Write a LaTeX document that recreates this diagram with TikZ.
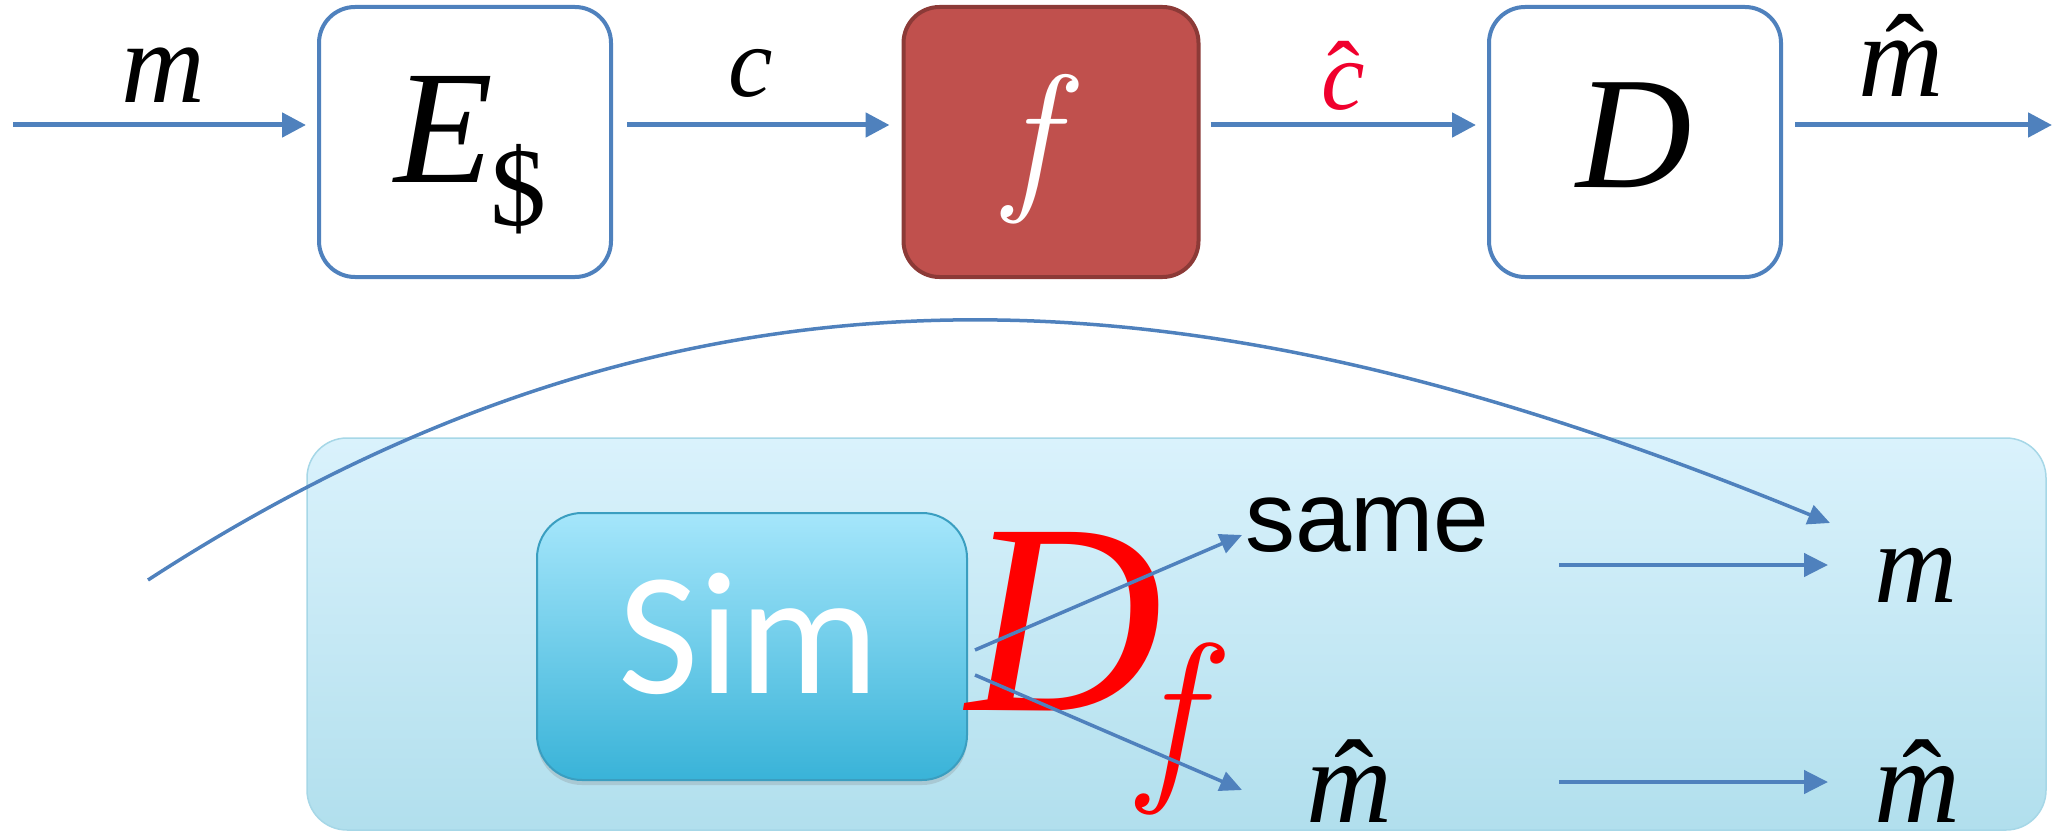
\documentclass[tikz,border=0pt]{standalone}
\usepackage{fontspec}
\setmainfont{Liberation Serif}
\newfontfamily\simfont{Carlito}
\newfontfamily\arialfont{Liberation Sans}
\newfontfamily\lmfont{Latin Modern Roman}
\usetikzlibrary{arrows.meta,shadows}
\definecolor{lineblue}{HTML}{4F81BD}
\definecolor{fred}{HTML}{C0504D}
\definecolor{fredborder}{HTML}{8C3A37}
\definecolor{paneltop}{HTML}{DAF2FC}
\definecolor{panelbot}{HTML}{B1DFED}
\definecolor{panelborder}{HTML}{A6D7E7}
\definecolor{simtop}{HTML}{A5E6FB}
\definecolor{simbot}{HTML}{39B3D8}
\definecolor{simborder}{HTML}{3A9EC0}
\definecolor{hatred}{HTML}{F0002D}
\definecolor{dfred}{HTML}{FF0000}
\newcommand{\withhat}[2]{\ooalign{#1\cr\hidewidth\kern#2\upshape ˆ\hidewidth\cr}}
\tikzset{
  blk/.style={draw=lineblue, line width=4pt, rounded corners=36pt, minimum width=292pt,
    minimum height=270pt, inner sep=0pt, fill=white},
  arr/.style={draw=lineblue, line width=5pt, -{Triangle[length=24pt,width=24pt]}},
  arrb/.style={draw=lineblue, line width=4.5pt, -{Triangle[length=24pt,width=23pt]}},
  arrd/.style={draw=lineblue, line width=3.5pt, -{Triangle[length=22pt,width=20pt]}},
  txt/.style={anchor=base west, inner sep=0pt, outer sep=0pt},
  itx/.style={txt, font=\fontsize{#1}{#1}\selectfont\itshape},
}
\begin{document}
\begin{tikzpicture}[x=1pt,y=-1pt]
\useasboundingbox (0,0) rectangle (2052,832);
% ---------- top row ----------
\node[blk] (E) at (465,142) {};
\node[blk, fill=fred, draw=fredborder, minimum width=295pt] (F) at (1051,142) {};
\node[blk] (D) at (1635,142) {};

\node[itx=162] (Et) at (394,182) {E\kern-2pt\raisebox{-43pt}{\fontsize{112}{112}\selectfont\upshape\$}};
\node[anchor=base, inner sep=0pt, text=white, font=\lmfont\fontsize{165}{165}\selectfont\itshape] (Ft) at (1030,190) {f};
\node[itx=160] (Dt) at (1576,187) {D};

\coordinate (in) at (13,125);
\coordinate (out) at (2052,125);
\draw[arr] (in) -- ([xshift=-11pt,yshift=17pt]E.west);
\draw[arr] ([xshift=14pt,yshift=17pt]E.east) -- ([xshift=-12pt,yshift=17pt]F.west);
\draw[arr] ([xshift=10pt,yshift=17pt]F.east) -- ([xshift=-11pt,yshift=17pt]D.west);
\draw[arr] ([xshift=12pt,yshift=17pt]D.east) -- (out);

\node[itx=116] (m1) at (121,103) {m};
\node[itx=100] (c1) at (728,97) {c};
\node[itx=98, text=hatred] (c2) at (1321,110) {\withhat{c}{2pt}};
\node[itx=118] (m2) at (1858,97) {\withhat{m}{10pt}};

% ---------- bottom panel ----------
\node[draw=panelborder, line width=1.5pt, rounded corners=40pt, top color=paneltop,
  bottom color=panelbot, minimum width=1739pt, minimum height=392pt, inner sep=0pt]
  (panel) at (1176.5,634) {};

\coordinate (cstart) at (148,580);
\coordinate (cend) at (1830,523);
\draw[arrd] (cstart) .. controls (728,203) and (1250,285) .. (cend);

\node[draw=simborder, line width=2pt, rounded corners=45pt, top color=simtop,
  bottom color=simbot, minimum width=430pt, minimum height=267pt, inner sep=0pt,
  drop shadow={opacity=0.25, shadow xshift=0pt, shadow yshift=-5pt}]
  (sim) at (752,646.5) {};
\node[anchor=base, inner sep=0pt, text=white, font=\simfont\fontsize{175}{175}\selectfont]
  (simt) at (749,693) {Sim};

\node[itx=272, text=dfred] (Df) at (966,710)
  {D\kern-22pt\raisebox{-66pt}{\lmfont\fontsize{190}{190}\selectfont\itshape f}};

\node[txt, font=\arialfont\fontsize{100}{100}\selectfont] (same) at (1245,551) {same};
\node[itx=115] (m3) at (1874,602) {m};
\node[itx=119] (m4) at (1306,822) {\withhat{m}{10pt}};
\node[itx=119] (m5) at (1874,822) {\withhat{m}{10pt}};

\coordinate (sametip) at (1242,535);
\coordinate (m4tip) at (1242,790);
\draw[arrd] ([xshift=7pt,yshift=-3.5pt]sim.east) -- (sametip);
\draw[arrd] ([xshift=7pt,yshift=-28.5pt]sim.east) -- (m4tip);

\coordinate (r1s) at (1559,565);
\coordinate (r1e) at (1828,565);
\coordinate (r2s) at (1559,782);
\coordinate (r2e) at (1828,782);
\draw[arrb] (r1s) -- (r1e);
\draw[arrb] (r2s) -- (r2e);
\end{tikzpicture}
\end{document}
